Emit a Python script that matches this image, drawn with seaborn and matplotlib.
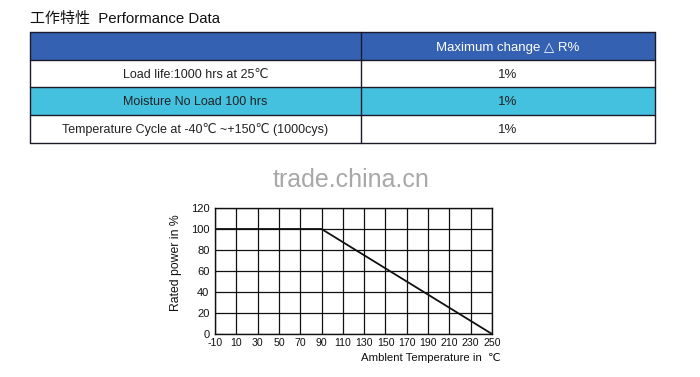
import matplotlib
matplotlib.use("Agg")
import matplotlib.pyplot as plt
import seaborn as sns
import pandas as pd
from matplotlib.patches import Rectangle

# ---- data ----
title_text = "工作特性  Performance Data"
header_right = "Maximum change \u25b3 R%"
test_items = ["Load life:1000 hrs at 25\u2103",
              "Moisture No Load 100 hrs",
              "Temperature Cycle at -40\u2103 ~+150\u2103 (1000cys)"]
max_change = ["1%", "1%", "1%"]

temps = [-10, 90, 250]
rated_power = [100, 100, 0]
x_ticks = list(range(-10, 251, 20))
y_ticks = list(range(0, 121, 20))
x_label = "Amblent Temperature in  \u2103"
y_label = "Rated power in %"

sns.set_theme(style="white")
FAM = ['Liberation Sans', 'DejaVu Sans', 'Noto Sans CJK SC']
plt.rcParams['font.family'] = FAM

W, H = 700, 377
fig = plt.figure(figsize=(W / 100, H / 100), dpi=100)

# ---- table overlay in pixel coords ----
tax = fig.add_axes([0, 0, 1, 1])
tax.set_xlim(0, W)
tax.set_ylim(H, 0)
tax.axis('off')

tax.text(30, 19, title_text, fontsize=10.8, va='center', ha='left',
         family=['Liberation Sans', 'Noto Sans CJK SC'], color='#111111')

left, right, mid = 30, 655, 361
row_edges = [32, 60, 87, 115, 143]
fills = ['#3461b1', '#ffffff', '#45c1e0', '#ffffff']
for i, fc in enumerate(fills):
    y0, y1 = row_edges[i], row_edges[i + 1]
    tax.add_patch(Rectangle((left, y0), right - left, y1 - y0,
                            facecolor=fc, edgecolor='none'))
for y in row_edges:
    tax.plot([left, right], [y, y], color='#1a1a2a', lw=1.0)
for x in [left, mid, right]:
    tax.plot([x, x], [row_edges[0], row_edges[-1]], color='#1a1a2a', lw=1.0)

tax.text((mid + right) / 2, (row_edges[0] + row_edges[1]) / 2 + 1.5,
         header_right, color='white', fontsize=9.5, ha='center',
         va='center', family=FAM)
for i, (item, val) in enumerate(zip(test_items, max_change)):
    yc = (row_edges[i + 1] + row_edges[i + 2]) / 2 + 1
    tax.text((left + mid) / 2, yc, item, fontsize=9, ha='center',
             va='center', color='#222222', family=FAM)
    tax.text((mid + right) / 2, yc, val, fontsize=9.5, ha='center',
             va='center', color='#222222', family=FAM)

tax.text(351, 180, "trade.china.cn", fontsize=18, color='#a8a8a8',
         ha='center', va='center', family=FAM)

# ---- derating chart ----
ax = fig.add_axes([215 / W, 1 - 334 / H, (492 - 215) / W, (334 - 208) / H])
df = pd.DataFrame({"temp": temps, "power": rated_power})
sns.lineplot(data=df, x="temp", y="power", ax=ax, color='#111111',
             linewidth=1.3)
ax.set_xlim(x_ticks[0], x_ticks[-1])
ax.set_ylim(y_ticks[0], y_ticks[-1])
ax.set_xticks(x_ticks)
ax.set_yticks(y_ticks)
ax.set_xticklabels([str(t) for t in x_ticks], fontsize=7.6)
ax.set_yticklabels([str(t) for t in y_ticks], fontsize=8)
ax.tick_params(axis='y', length=0, pad=4, colors='#111111')
ax.tick_params(axis='x', length=0, pad=3, colors='#111111')
ax.grid(True, color='#111111', linewidth=0.9)
for s in ax.spines.values():
    s.set_color('#111111')
    s.set_linewidth(1.0)
ax.set_xlabel("")
ax.set_ylabel(y_label, fontsize=8.8, color='#111111')
ax.yaxis.set_label_coords(-0.12, 0.57)
ax.text(1.03, -0.19, x_label, transform=ax.transAxes, ha='right',
        va='center', fontsize=8.2, color='#111111', family=FAM)

fig.savefig("out.png", dpi=100, facecolor='white')
